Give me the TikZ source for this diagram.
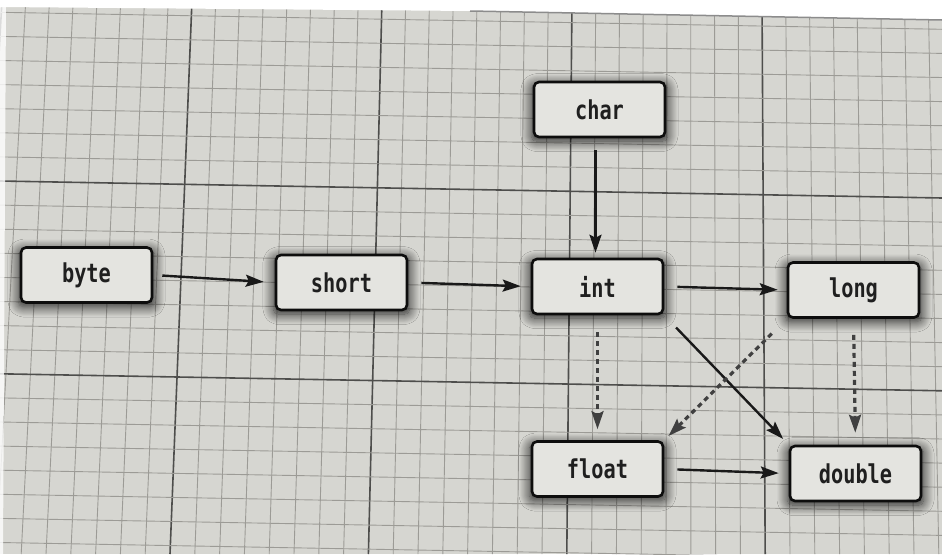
\documentclass[tikz,border=0pt]{standalone}
\usepackage{fontspec}
\newfontfamily\codefont[FakeStretch=0.78]{DejaVu Sans Mono}
\usetikzlibrary{arrows.meta,shadows.blur}
\definecolor{bgc}{HTML}{D6D6D1}
\definecolor{boxfill}{HTML}{E4E4E0}
\definecolor{minorc}{HTML}{9C9B96}
\definecolor{majorc}{HTML}{4E4E4C}
\begin{document}
\begin{tikzpicture}[x=1pt,y=-1pt,
  box/.style={draw=black!95, line width=2.6pt, fill=boxfill, rounded corners=5pt,
    minimum width=131pt, minimum height=55pt, inner sep=0pt,
    font=\codefont\bfseries\fontsize{26}{26}\selectfont, text=black!88,
    blur shadow={shadow xshift=0pt, shadow yshift=-3pt, shadow blur radius=10pt,
      shadow blur steps=15, shadow opacity=85, shadow scale=1.04}},
  arr/.style={line width=2.4pt, draw=black!90, -{Stealth[length=18pt,width=12pt,inset=3pt]}},
  darr/.style={arr, draw=black!75, line width=3.2pt, dash pattern=on 5pt off 4pt},
  minorline/.style={draw=minorc, line width=0.9pt},
  majorline/.style={draw=majorc, line width=1.6pt}
]
\useasboundingbox (0,0) rectangle (942,554);
\fill[bgc] (0,0) rectangle (942,554);
% grid (slightly skewed, as in the photograph)
\foreach \u in {-8,-7,...,32}{
  \pgfmathsetmacro\xa{192+23.75*\u}
  \pgfmathsetmacro\xb{170+24.8*\u}
  \pgfmathtruncatemacro\m{mod(\u+80,8)}
  \ifnum\m=0
    \draw[majorline] (\xa,0) -- (\xb,554);
  \else
    \draw[minorline] (\xa,0) -- (\xb,554);
  \fi
}
\foreach \v in {-8,-7,...,16}{
  \pgfmathsetmacro\ya{181+24.1*\v}
  \pgfmathsetmacro\yb{198+24.1*\v}
  \pgfmathtruncatemacro\m{mod(\v+80,8)}
  \ifnum\m=0
    \draw[majorline] (0,\ya) -- (942,\yb);
  \else
    \draw[minorline] (0,\ya) -- (942,\yb);
  \fi
}
% page edges
\fill[white] (0,0) -- (942,0) -- (942,20) -- (470,11) -- (0,7) -- cycle;
\draw[black!45, line width=1.5pt] (470,11) -- (942,20);
\fill[white, opacity=0.8] (0,0) -- (6,0) -- (3,554) -- (0,554) -- cycle;
% nodes
\node[box] (byte)   at (86.5,275)   {byte};
\node[box] (short)  at (341.5,282.5){short};
\node[box] (char)   at (599.5,109.5){char};
\node[box] (int)    at (597.5,286.5){int};
\node[box] (long)   at (853.5,290)  {long};
\node[box] (float)  at (597.5,469)  {float};
\node[box] (double) at (855.5,473.5){double};
% connectors
\draw[arr, shorten <=9pt, shorten >=11pt] (byte.east) -- (short.west);
\draw[arr, shorten <=13pt, shorten >=10pt] (short.east) -- (int.west);
\draw[arr, shorten <=12pt, shorten >=5pt] ([xshift=-4pt]char.south) -- ([xshift=-2pt]int.north);
\draw[arr, shorten <=13pt, shorten >=9pt] (int.east) -- (long.west);
\draw[arr, shorten <=13pt, shorten >=10pt] (float.east) -- (double.west);
\draw[darr, shorten <=17pt, shorten >=11pt] (int.south) -- (float.north);
\draw[darr, shorten <=16pt, shorten >=12pt] (long.south) -- (double.north);
\draw[arr, shorten <=17pt, shorten >=8pt] (int.south east) -- (double.north west);
\draw[darr, shorten <=21pt, shorten >=6pt] (long.south west) -- (float.north east);
\end{tikzpicture}
\end{document}
